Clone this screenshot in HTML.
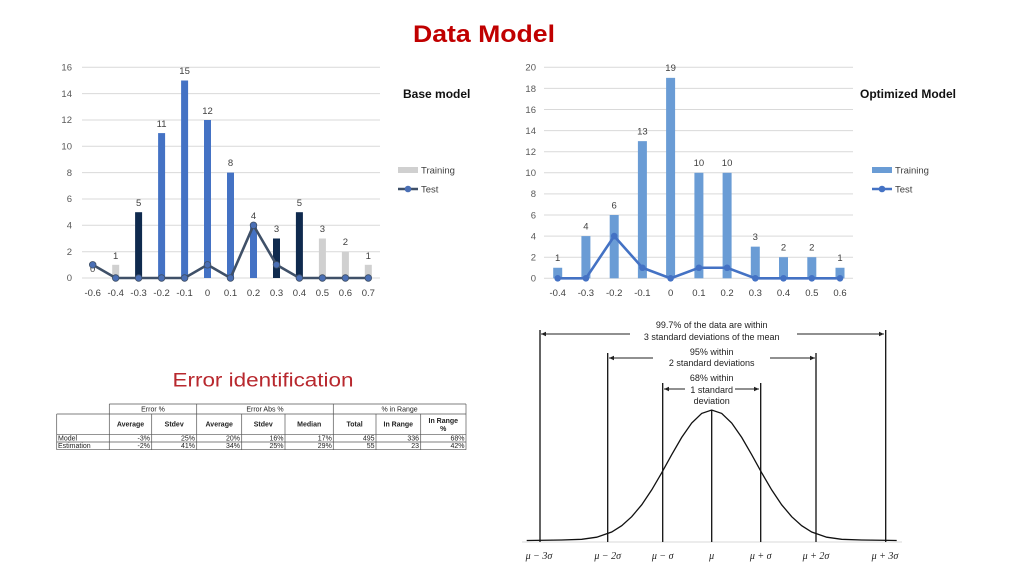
<!DOCTYPE html>
<html><head><meta charset="utf-8"><style>
html,body{margin:0;padding:0;background:#fff;}
svg{display:block;font-family:"Liberation Sans",sans-serif;}
</style></head><body>
<svg width="1024" height="576" viewBox="0 0 1024 576" xmlns="http://www.w3.org/2000/svg">
<rect width="1024" height="576" fill="#fff"/>
<text x="484" y="42" font-size="24" font-weight="bold" fill="#c00000" text-anchor="middle" textLength="142" lengthAdjust="spacingAndGlyphs">Data Model</text>

<!-- LEFT CHART -->
<g stroke="#d9d9d9" stroke-width="1">
<line x1="82" x2="380" y1="251.7" y2="251.7"/><line x1="82" x2="380" y1="225.3" y2="225.3"/>
<line x1="82" x2="380" y1="199" y2="199"/><line x1="82" x2="380" y1="172.6" y2="172.6"/>
<line x1="82" x2="380" y1="146.3" y2="146.3"/><line x1="82" x2="380" y1="120" y2="120"/>
<line x1="82" x2="380" y1="93.6" y2="93.6"/><line x1="82" x2="380" y1="67.3" y2="67.3"/>
<line x1="82" x2="380" y1="278" y2="278"/>
</g>
<g font-size="9.5" fill="#595959" text-anchor="end">
<text x="72" y="281">0</text><text x="72" y="255">2</text><text x="72" y="228.5">4</text>
<text x="72" y="202">6</text><text x="72" y="176">8</text><text x="72" y="149.5">10</text>
<text x="72" y="123">12</text><text x="72" y="97">14</text><text x="72" y="70.5">16</text>
</g>
<g>
<rect x="112.2" y="264.8" width="7" height="13.2" fill="#d0d0d0"/>
<rect x="135.1" y="212.2" width="7" height="65.8" fill="#0f2a4e"/>
<rect x="158.1" y="133.1" width="7" height="144.9" fill="#4472c4"/>
<rect x="181.1" y="80.5" width="7" height="197.5" fill="#4472c4"/>
<rect x="204" y="120" width="7" height="158" fill="#4472c4"/>
<rect x="227" y="172.6" width="7" height="105.4" fill="#4472c4"/>
<rect x="250" y="225.3" width="7" height="52.7" fill="#4472c4"/>
<rect x="273" y="238.5" width="7" height="39.5" fill="#0f2a4e"/>
<rect x="295.9" y="212.2" width="7" height="65.8" fill="#0f2a4e"/>
<rect x="318.9" y="238.5" width="7" height="39.5" fill="#d0d0d0"/>
<rect x="341.9" y="251.7" width="7" height="26.3" fill="#d0d0d0"/>
<rect x="364.8" y="264.8" width="7" height="13.2" fill="#d0d0d0"/>
</g>
<g font-size="9.5" fill="#404040" text-anchor="middle">
<text x="92.7" y="272">0</text>
<text x="115.7" y="259">1</text><text x="138.6" y="206">5</text><text x="161.6" y="127">11</text>
<text x="184.6" y="74">15</text><text x="207.5" y="114">12</text><text x="230.5" y="166">8</text>
<text x="253.5" y="219">4</text><text x="276.5" y="232">3</text><text x="299.4" y="206">5</text>
<text x="322.4" y="232">3</text><text x="345.4" y="245">2</text><text x="368.3" y="259">1</text>
</g>
<polyline fill="none" stroke="#3f5068" stroke-width="2.6" points="92.7,264.8 115.7,278 138.6,278 161.6,278 184.6,278 207.5,264.8 230.5,278 253.5,225.3 276.5,264.8 299.4,278 322.4,278 345.4,278 368.3,278"/>
<g fill="#4a6fb5" stroke="#3f5068" stroke-width="0.8">
<circle cx="92.7" cy="264.8" r="3.3"/><circle cx="115.7" cy="278" r="3.3"/><circle cx="138.6" cy="278" r="3.3"/>
<circle cx="161.6" cy="278" r="3.3"/><circle cx="184.6" cy="278" r="3.3"/><circle cx="207.5" cy="264.8" r="3.3"/>
<circle cx="230.5" cy="278" r="3.3"/><circle cx="253.5" cy="225.3" r="3.3"/><circle cx="276.5" cy="264.8" r="3.3"/>
<circle cx="299.4" cy="278" r="3.3"/><circle cx="322.4" cy="278" r="3.3"/><circle cx="345.4" cy="278" r="3.3"/>
<circle cx="368.3" cy="278" r="3.3"/>
</g>
<g font-size="9.5" fill="#404040" text-anchor="middle">
<text x="92.7" y="296">-0.6</text><text x="115.7" y="296">-0.4</text><text x="138.6" y="296">-0.3</text>
<text x="161.6" y="296">-0.2</text><text x="184.6" y="296">-0.1</text><text x="207.5" y="296">0</text>
<text x="230.5" y="296">0.1</text><text x="253.5" y="296">0.2</text><text x="276.5" y="296">0.3</text>
<text x="299.4" y="296">0.4</text><text x="322.4" y="296">0.5</text><text x="345.4" y="296">0.6</text>
<text x="368.3" y="296">0.7</text>
</g>
<text x="403" y="98" font-size="12" font-weight="bold" fill="#111">Base model</text>
<rect x="398" y="167" width="20" height="6" fill="#d0d0d0"/>
<text x="421" y="173.5" font-size="9.5" fill="#404040">Training</text>
<line x1="398" x2="418" y1="189" y2="189" stroke="#3f5068" stroke-width="2.6"/>
<circle cx="408" cy="189" r="3.3" fill="#4a6fb5"/>
<text x="421" y="192.5" font-size="9.5" fill="#404040">Test</text>

<!-- RIGHT CHART -->
<g stroke="#d9d9d9" stroke-width="1">
<line x1="544" x2="853" y1="257.2" y2="257.2"/><line x1="544" x2="853" y1="236.1" y2="236.1"/>
<line x1="544" x2="853" y1="215" y2="215"/><line x1="544" x2="853" y1="193.9" y2="193.9"/>
<line x1="544" x2="853" y1="172.8" y2="172.8"/><line x1="544" x2="853" y1="151.7" y2="151.7"/>
<line x1="544" x2="853" y1="130.6" y2="130.6"/><line x1="544" x2="853" y1="109.5" y2="109.5"/>
<line x1="544" x2="853" y1="88.4" y2="88.4"/><line x1="544" x2="853" y1="67.3" y2="67.3"/>
<line x1="544" x2="853" y1="278.3" y2="278.3"/>
</g>
<g font-size="9.5" fill="#595959" text-anchor="end">
<text x="536" y="281.5">0</text><text x="536" y="260.5">2</text><text x="536" y="239.5">4</text>
<text x="536" y="218.5">6</text><text x="536" y="197">8</text><text x="536" y="176">10</text>
<text x="536" y="155">12</text><text x="536" y="134">14</text><text x="536" y="113">16</text>
<text x="536" y="92">18</text><text x="536" y="70.5">20</text>
</g>
<g fill="#6a9cd5">
<rect x="553.2" y="267.75" width="9" height="10.55"/>
<rect x="581.4" y="236.1" width="9" height="42.2"/>
<rect x="609.7" y="215" width="9" height="63.3"/>
<rect x="637.9" y="141.15" width="9" height="137.15"/>
<rect x="666.1" y="77.85" width="9" height="200.45"/>
<rect x="694.4" y="172.8" width="9" height="105.5"/>
<rect x="722.6" y="172.8" width="9" height="105.5"/>
<rect x="750.8" y="246.65" width="9" height="31.65"/>
<rect x="779" y="257.2" width="9" height="21.1"/>
<rect x="807.3" y="257.2" width="9" height="21.1"/>
<rect x="835.5" y="267.75" width="9" height="10.55"/>
</g>
<g font-size="9.5" fill="#404040" text-anchor="middle">
<text x="557.7" y="261">1</text><text x="585.9" y="229.5">4</text><text x="614.2" y="208.5">6</text>
<text x="642.4" y="134.5">13</text><text x="670.6" y="71">19</text><text x="698.9" y="166">10</text>
<text x="727.1" y="166">10</text><text x="755.3" y="240">3</text><text x="783.5" y="250.5">2</text>
<text x="811.8" y="250.5">2</text><text x="840" y="261">1</text>
</g>
<polyline fill="none" stroke="#4472c4" stroke-width="2.6" points="557.7,278.3 585.9,278.3 614.2,236.1 642.4,267.75 670.6,278.3 698.9,267.75 727.1,267.75 755.3,278.3 783.5,278.3 811.8,278.3 840,278.3"/>
<g fill="#4472c4">
<circle cx="557.7" cy="278.3" r="3.3"/><circle cx="585.9" cy="278.3" r="3.3"/><circle cx="614.2" cy="236.1" r="3.3"/>
<circle cx="642.4" cy="267.75" r="3.3"/><circle cx="670.6" cy="278.3" r="3.3"/><circle cx="698.9" cy="267.75" r="3.3"/>
<circle cx="727.1" cy="267.75" r="3.3"/><circle cx="755.3" cy="278.3" r="3.3"/><circle cx="783.5" cy="278.3" r="3.3"/>
<circle cx="811.8" cy="278.3" r="3.3"/><circle cx="840" cy="278.3" r="3.3"/>
</g>
<g font-size="9.5" fill="#404040" text-anchor="middle">
<text x="557.7" y="296">-0.4</text><text x="585.9" y="296">-0.3</text><text x="614.2" y="296">-0.2</text>
<text x="642.4" y="296">-0.1</text><text x="670.6" y="296">0</text><text x="698.9" y="296">0.1</text>
<text x="727.1" y="296">0.2</text><text x="755.3" y="296">0.3</text><text x="783.5" y="296">0.4</text>
<text x="811.8" y="296">0.5</text><text x="840" y="296">0.6</text>
</g>
<text x="860" y="98" font-size="12" font-weight="bold" fill="#111">Optimized  Model</text>
<rect x="872" y="167" width="20" height="6" fill="#6a9cd5"/>
<text x="895" y="173.5" font-size="9.5" fill="#404040">Training</text>
<line x1="872" x2="892" y1="189" y2="189" stroke="#4472c4" stroke-width="2.6"/>
<circle cx="882" cy="189" r="3.3" fill="#4472c4"/>
<text x="895" y="192.5" font-size="9.5" fill="#404040">Test</text>

<!-- ERROR IDENTIFICATION -->
<text x="263" y="386.5" font-size="19" fill="#b8282e" text-anchor="middle" textLength="181" lengthAdjust="spacingAndGlyphs">Error identification</text>
<g stroke="#555" stroke-width="0.7" fill="none">
<line x1="109.3" x2="466" y1="404" y2="404"/>
<line x1="56.7" x2="466" y1="414" y2="414"/>
<line x1="56.7" x2="466" y1="434.3" y2="434.3"/>
<line x1="56.7" x2="466" y1="442" y2="442"/>
<line x1="56.7" x2="466" y1="449.7" y2="449.7"/>
<line x1="56.7" x2="56.7" y1="414" y2="449.7"/>
<line x1="109.3" x2="109.3" y1="404" y2="449.7"/>
<line x1="151.7" x2="151.7" y1="414" y2="449.7"/>
<line x1="196.7" x2="196.7" y1="404" y2="449.7"/>
<line x1="241.7" x2="241.7" y1="414" y2="449.7"/>
<line x1="285" x2="285" y1="414" y2="449.7"/>
<line x1="333.3" x2="333.3" y1="404" y2="449.7"/>
<line x1="376" x2="376" y1="414" y2="449.7"/>
<line x1="420.7" x2="420.7" y1="414" y2="449.7"/>
<line x1="466" x2="466" y1="404" y2="449.7"/>
</g>
<g font-size="7" fill="#222" text-anchor="middle">
<text x="153" y="411.5">Error %</text><text x="265" y="411.5">Error Abs %</text><text x="399.6" y="411.5">% in Range</text>
<g font-weight="bold">
<text x="130.5" y="426.5">Average</text><text x="174.2" y="426.5">Stdev</text><text x="219.2" y="426.5">Average</text>
<text x="263.3" y="426.5">Stdev</text><text x="309.2" y="426.5">Median</text><text x="354.6" y="426.5">Total</text>
<text x="398.3" y="426.5">In Range</text><text x="443.3" y="423">In Range</text><text x="443.3" y="431">%</text>
</g>
</g>
<g font-size="7" fill="#222">
<text x="58" y="440.5">Model</text><text x="58" y="448.2">Estimation</text>
</g>
<g font-size="7" fill="#222" text-anchor="end">
<text x="150" y="440.5">-3%</text><text x="195" y="440.5">25%</text><text x="240" y="440.5">20%</text>
<text x="283.5" y="440.5">16%</text><text x="331.8" y="440.5">17%</text><text x="374.5" y="440.5">495</text>
<text x="419" y="440.5">336</text><text x="464.5" y="440.5">68%</text>
<text x="150" y="448.2">-2%</text><text x="195" y="448.2">41%</text><text x="240" y="448.2">34%</text>
<text x="283.5" y="448.2">25%</text><text x="331.8" y="448.2">29%</text><text x="374.5" y="448.2">55</text>
<text x="419" y="448.2">23</text><text x="464.5" y="448.2">42%</text>
</g>

<!-- BELL CURVE -->
<polyline fill="none" stroke="#111" stroke-width="1.3" points="526.7,540.5 561.7,540 581.7,539.3 596.7,537.2 611.7,532 621.7,525.7 631.7,516.7 641.7,504.8 651.7,489.9 661.7,472.8 671.7,454.7 681.7,437.4 691.7,423 701.7,413.4 711.7,410 721.7,413.4 731.7,423 741.7,437.4 751.7,454.7 761.7,472.8 771.7,489.9 781.7,504.8 791.7,516.7 801.7,525.7 811.7,532 826.7,537.2 841.7,539.3 861.7,540 896.7,540.5"/>
<line x1="522" x2="902" y1="542" y2="542" stroke="#111" stroke-width="0.6" opacity="0.3"/>
<g stroke="#111" stroke-width="1.3">
<line x1="540" x2="540" y1="330" y2="542"/>
<line x1="607.7" x2="607.7" y1="353" y2="542"/>
<line x1="662.7" x2="662.7" y1="383" y2="542"/>
<line x1="711.7" x2="711.7" y1="410" y2="542"/>
<line x1="760.7" x2="760.7" y1="383" y2="542"/>
<line x1="816" x2="816" y1="353" y2="542"/>
<line x1="885.7" x2="885.7" y1="330" y2="542"/>
</g>
<g stroke="#222" stroke-width="0.9">
<line x1="541" x2="630" y1="334" y2="334"/><line x1="797" x2="884" y1="334" y2="334"/>
<line x1="609" x2="653" y1="358" y2="358"/><line x1="770" x2="815" y1="358" y2="358"/>
<line x1="664" x2="685" y1="389" y2="389"/><line x1="735" x2="759" y1="389" y2="389"/>
</g>
<g fill="#222">
<polygon points="541,334 546,331.8 546,336.2"/><polygon points="884,334 879,331.8 879,336.2"/>
<polygon points="609,358 614,355.8 614,360.2"/><polygon points="815,358 810,355.8 810,360.2"/>
<polygon points="664,389 669,386.8 669,391.2"/><polygon points="759,389 754,386.8 754,391.2"/>
</g>
<g font-size="9" fill="#222" text-anchor="middle">
<text x="711.7" y="328">99.7% of the data are within</text>
<text x="711.7" y="340">3 standard deviations of the mean</text>
<text x="711.7" y="355">95% within</text>
<text x="711.7" y="366">2 standard deviations</text>
<text x="711.7" y="381">68% within</text>
<text x="711.7" y="393">1 standard</text>
<text x="711.7" y="404">deviation</text>
</g>
<g font-size="10" fill="#222" text-anchor="middle" font-family="Liberation Serif,serif" font-style="italic">
<text x="539" y="559">μ − 3σ</text><text x="607.7" y="559">μ − 2σ</text><text x="662.7" y="559">μ − σ</text>
<text x="711.7" y="559">μ</text><text x="760.7" y="559">μ + σ</text><text x="816" y="559">μ + 2σ</text>
<text x="885" y="559">μ + 3σ</text>
</g>
</svg>
</body></html>
